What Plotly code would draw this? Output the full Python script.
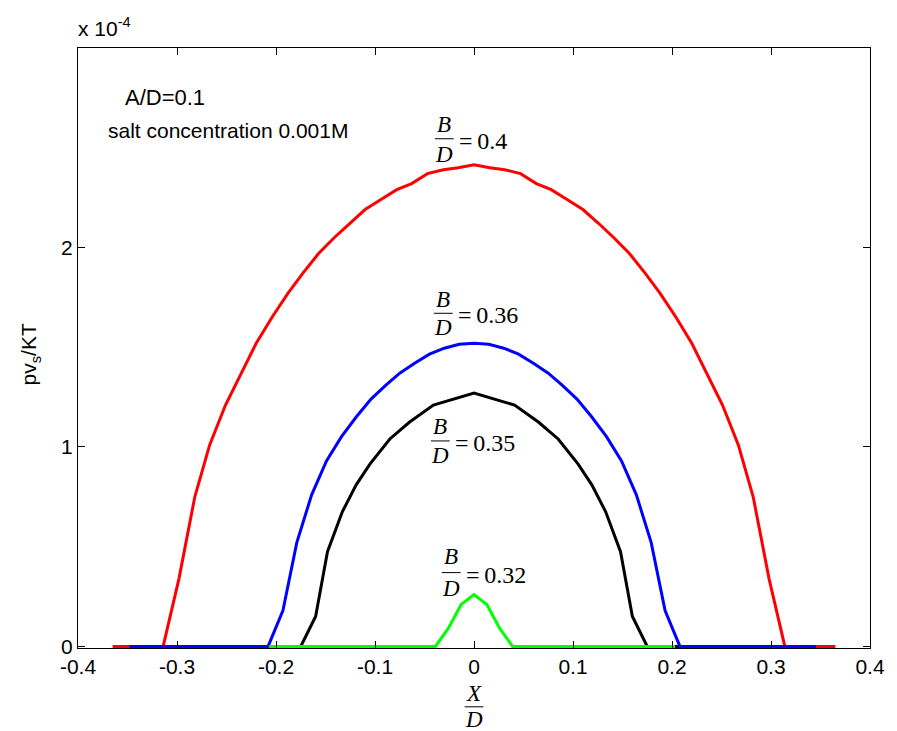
import plotly.graph_objects as go

# x = X/D ; y = pv_s/KT in units of 1e-4
red_x = [-0.365, -0.314, -0.298, -0.282, -0.267, -0.251, -0.235, -0.220, -0.204, -0.188, -0.173,
         -0.157, -0.141, -0.126, -0.110, -0.094, -0.078, -0.063, -0.047, -0.031, -0.016, 0.0,
         0.016, 0.031, 0.047, 0.063, 0.078, 0.094, 0.110, 0.126, 0.141, 0.157, 0.173, 0.188,
         0.204, 0.220, 0.235, 0.251, 0.267, 0.282, 0.298, 0.314, 0.365]
red_y = [0.0, 0.0, 0.34, 0.75, 1.01, 1.21, 1.37, 1.52, 1.65, 1.77, 1.87,
         1.97, 2.05, 2.12, 2.19, 2.24, 2.29, 2.32, 2.37, 2.39, 2.40, 2.415,
         2.40, 2.39, 2.37, 2.32, 2.29, 2.24, 2.19, 2.12, 2.05, 1.97, 1.87, 1.77,
         1.65, 1.52, 1.37, 1.21, 1.01, 0.75, 0.34, 0.0, 0.0]

black_x = [-0.345, -0.175, -0.160, -0.148, -0.133, -0.119, -0.105, -0.085, -0.065, -0.041, 0.0,
           0.041, 0.065, 0.085, 0.105, 0.119, 0.133, 0.148, 0.160, 0.175, 0.345]
black_y = [0.0, 0.0, 0.15, 0.475, 0.675, 0.81, 0.915, 1.04, 1.125, 1.21, 1.27,
           1.21, 1.125, 1.04, 0.915, 0.81, 0.675, 0.475, 0.15, 0.0, 0.0]

blue_x = [-0.348, -0.208, -0.193, -0.179, -0.164, -0.149, -0.134, -0.119, -0.104, -0.089, -0.075,
          -0.060, -0.045, -0.030, -0.015, 0.0, 0.015, 0.030, 0.045, 0.060, 0.075, 0.089, 0.104,
          0.119, 0.134, 0.149, 0.164, 0.179, 0.193, 0.208, 0.345]
blue_y = [0.0, 0.0, 0.18, 0.52, 0.76, 0.93, 1.05, 1.15, 1.24, 1.31, 1.37,
          1.42, 1.465, 1.495, 1.515, 1.52, 1.515, 1.495, 1.465, 1.42, 1.37, 1.31, 1.24,
          1.15, 1.05, 0.93, 0.76, 0.52, 0.18, 0.0, 0.0]

green_x = [-0.207, -0.039, -0.026, -0.013, 0.0, 0.013, 0.026, 0.039, 0.203]
green_y = [0.0, 0.0, 0.09, 0.21, 0.26, 0.21, 0.09, 0.0, 0.0]

# B/D labels: (value text, bar centre x, bar y, B y, D y, left of "= value")
bd_labels = [
    ("0.4", -0.030, 2.545, 2.615, 2.465, -0.017),
    ("0.36", -0.031, 1.670, 1.740, 1.600, -0.018),
    ("0.35", -0.034, 1.030, 1.100, 0.955, -0.021),
    ("0.32", -0.023, 0.370, 0.450, 0.290, -0.010),
]

x_ticks = [-0.4, -0.3, -0.2, -0.1, 0.0, 0.1, 0.2, 0.3, 0.4]
x_tick_text = ["-0.4", "-0.3", "-0.2", "-0.1", "0", "0.1", "0.2", "0.3", "0.4"]
y_ticks = [0, 1, 2]
y_tick_text = ["0", "1", "2"]

SANS = "Liberation Sans, Arial, Helvetica, sans-serif"
SERIF = "Liberation Serif, Times New Roman, serif"
FS = 21
SERIF_FS = 23

fig = go.Figure()
for xs, ys, col in [(red_x, red_y, "#ff0000"), (black_x, black_y, "#000000"),
                    (blue_x, blue_y, "#0000ff"), (green_x, green_y, "#00ff00")]:
    fig.add_trace(go.Scatter(x=xs, y=ys, mode="lines", cliponaxis=False,
                             line=dict(color=col, width=3), showlegend=False,
                             hoverinfo="skip"))

annotations = []
shapes = []
for val, bx, by, b_y, d_y, eq_x in bd_labels:
    annotations.append(dict(x=bx, y=b_y, text="<i>B</i>", showarrow=False,
                            font=dict(family=SERIF, size=SERIF_FS, color="black"),
                            xanchor="center", yanchor="middle"))
    annotations.append(dict(x=bx, y=d_y, text="<i>D</i>", showarrow=False,
                            font=dict(family=SERIF, size=SERIF_FS, color="black"),
                            xanchor="center", yanchor="middle"))
    annotations.append(dict(x=eq_x, y=by - 0.01, text="=\u2009" + val, showarrow=False,
                            font=dict(family=SERIF, size=SERIF_FS + 1, color="black"),
                            xanchor="left", yanchor="middle"))
    shapes.append(dict(type="line", x0=bx - 0.0095, x1=bx + 0.0095, y0=by, y1=by,
                       xref="x", yref="y", line=dict(color="black", width=1)))

# text inside the axes
annotations.append(dict(x=-0.355, y=2.75, text="A/D=0.1", showarrow=False,
                        font=dict(family=SANS, size=22, color="black"),
                        xanchor="left", yanchor="middle"))
annotations.append(dict(x=-0.372, y=2.585, text="salt concentration 0.001M", showarrow=False,
                        font=dict(family=SANS, size=21, color="black"),
                        xanchor="left", yanchor="middle"))

# exponent above the y axis
annotations.append(dict(xref="paper", yref="paper", x=-0.002, y=1.035,
                        text="x 10<sup>-4</sup>", showarrow=False,
                        font=dict(family=SANS, size=FS, color="black"),
                        xanchor="left", yanchor="middle"))

# y axis title
annotations.append(dict(xref="paper", yref="paper", x=-0.06, y=0.49,
                        text="pv<sub>s</sub>/KT", showarrow=False, textangle=-90,
                        font=dict(family=SANS, size=FS, color="black"),
                        xanchor="center", yanchor="middle"))

# x axis title as a fraction X / D
annotations.append(dict(xref="x", yref="paper", x=0.0, y=-0.076,
                        text="<i>X</i>", showarrow=False,
                        font=dict(family=SERIF, size=SERIF_FS, color="black"),
                        xanchor="center", yanchor="middle"))
annotations.append(dict(xref="x", yref="paper", x=0.0, y=-0.119,
                        text="<i>D</i>", showarrow=False,
                        font=dict(family=SERIF, size=SERIF_FS, color="black"),
                        xanchor="center", yanchor="middle"))
shapes.append(dict(type="line", xref="x", yref="paper", x0=-0.0095, x1=0.0095,
                   y0=-0.098, y1=-0.098, line=dict(color="black", width=1)))

fig.update_layout(
    width=897, height=731,
    margin=dict(l=78, r=19, t=48, b=83),
    paper_bgcolor="white", plot_bgcolor="white",
    font=dict(family=SANS, size=FS, color="black"),
    annotations=annotations, shapes=shapes,
    xaxis=dict(range=[-0.4, 0.4], tickvals=x_ticks, ticktext=x_tick_text,
               ticks="inside", ticklen=7, tickcolor="black", tickwidth=1,
               showline=True, linecolor="black", linewidth=1, mirror="allticks",
               showgrid=False, zeroline=False, tickfont=dict(size=FS)),
    # a sliver below zero keeps the full width of the lines lying on y = 0
    yaxis=dict(range=[-0.008, 3], tickvals=y_ticks, ticktext=y_tick_text,
               ticks="inside", ticklen=7, tickcolor="black", tickwidth=1,
               showline=True, linecolor="black", linewidth=1, mirror="allticks",
               showgrid=False, zeroline=False, tickfont=dict(size=FS)),
)

fig.write_html("out.html")
